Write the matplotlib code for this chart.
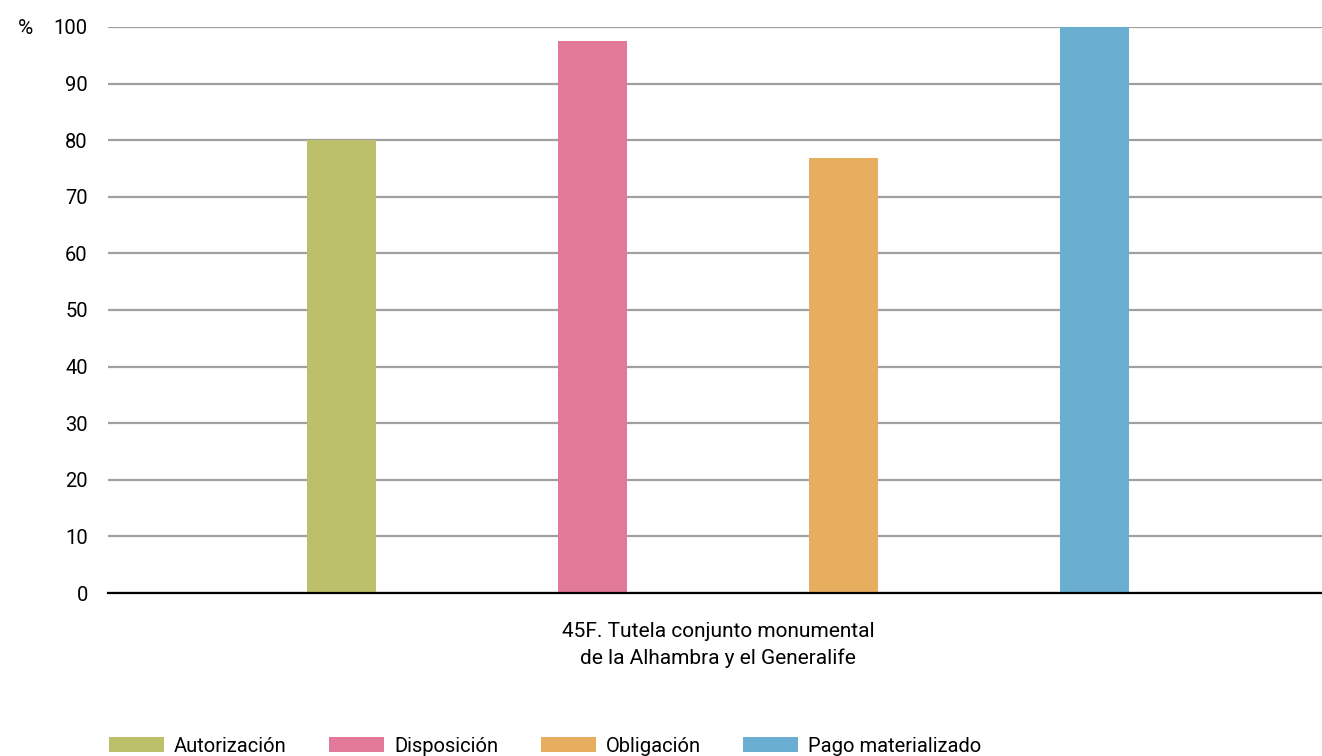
import matplotlib.pyplot as plt
import numpy as np

plt.rcParams['font.family'] = ['Roboto', 'DejaVu Sans']

# Datos
categoria = '45F. Tutela conjunto monumental\nde la Alhambra y el Generalife'
series = ['Autorización', 'Disposición', 'Obligación', 'Pago materializado']
valores = [80.1, 97.5, 76.9, 100]
colores = ['#bdc06b', '#e2799b', '#e8ae60', '#6aaed2']

fig = plt.figure(figsize=(13.22, 7.56), dpi=100)
ax = fig.add_axes([108 / 1322, 0.2156, 1220 / 1322, 0.7487])

paso = 251 / 1220
ancho = 69 / 1220
for i, (s, v, c) in enumerate(zip(series, valores, colores)):
    ax.bar((i - 1.5) * paso, v, width=ancho, color=c, label=s, zorder=3)

ax.set_xlim(-0.5, 0.5)
ax.set_ylim(0, 100)
ax.set_yticks(np.arange(0, 101, 10))
ax.yaxis.grid(True, color='#a0a0a0', linewidth=1.6, zorder=0)
ax.set_axisbelow(True)
ax.tick_params(axis='y', length=0, pad=14.5, labelsize=14.5)
ax.set_xticks([0])
ax.set_xticklabels([categoria], fontsize=15, linespacing=1.5)
ax.tick_params(axis='x', length=0, pad=21)
for lado in ['top', 'right', 'left']:
    ax.spines[lado].set_visible(False)
ax.spines['bottom'].set_color('black')
ax.spines['bottom'].set_linewidth(1.6)
ax.spines['bottom'].set_zorder(4)

fig.text(18 / 1322, 1 - 28 / 756, '%', fontsize=15, va='center', ha='left')

fig.legend(loc='lower left', bbox_to_anchor=(91 / 1322, -0.0237), ncol=4,
           frameon=False, fontsize=14.5, handlelength=2.73, handleheight=0.74,
           columnspacing=2.1, handletextpad=0.5)

fig.savefig('out.png', dpi=100)
